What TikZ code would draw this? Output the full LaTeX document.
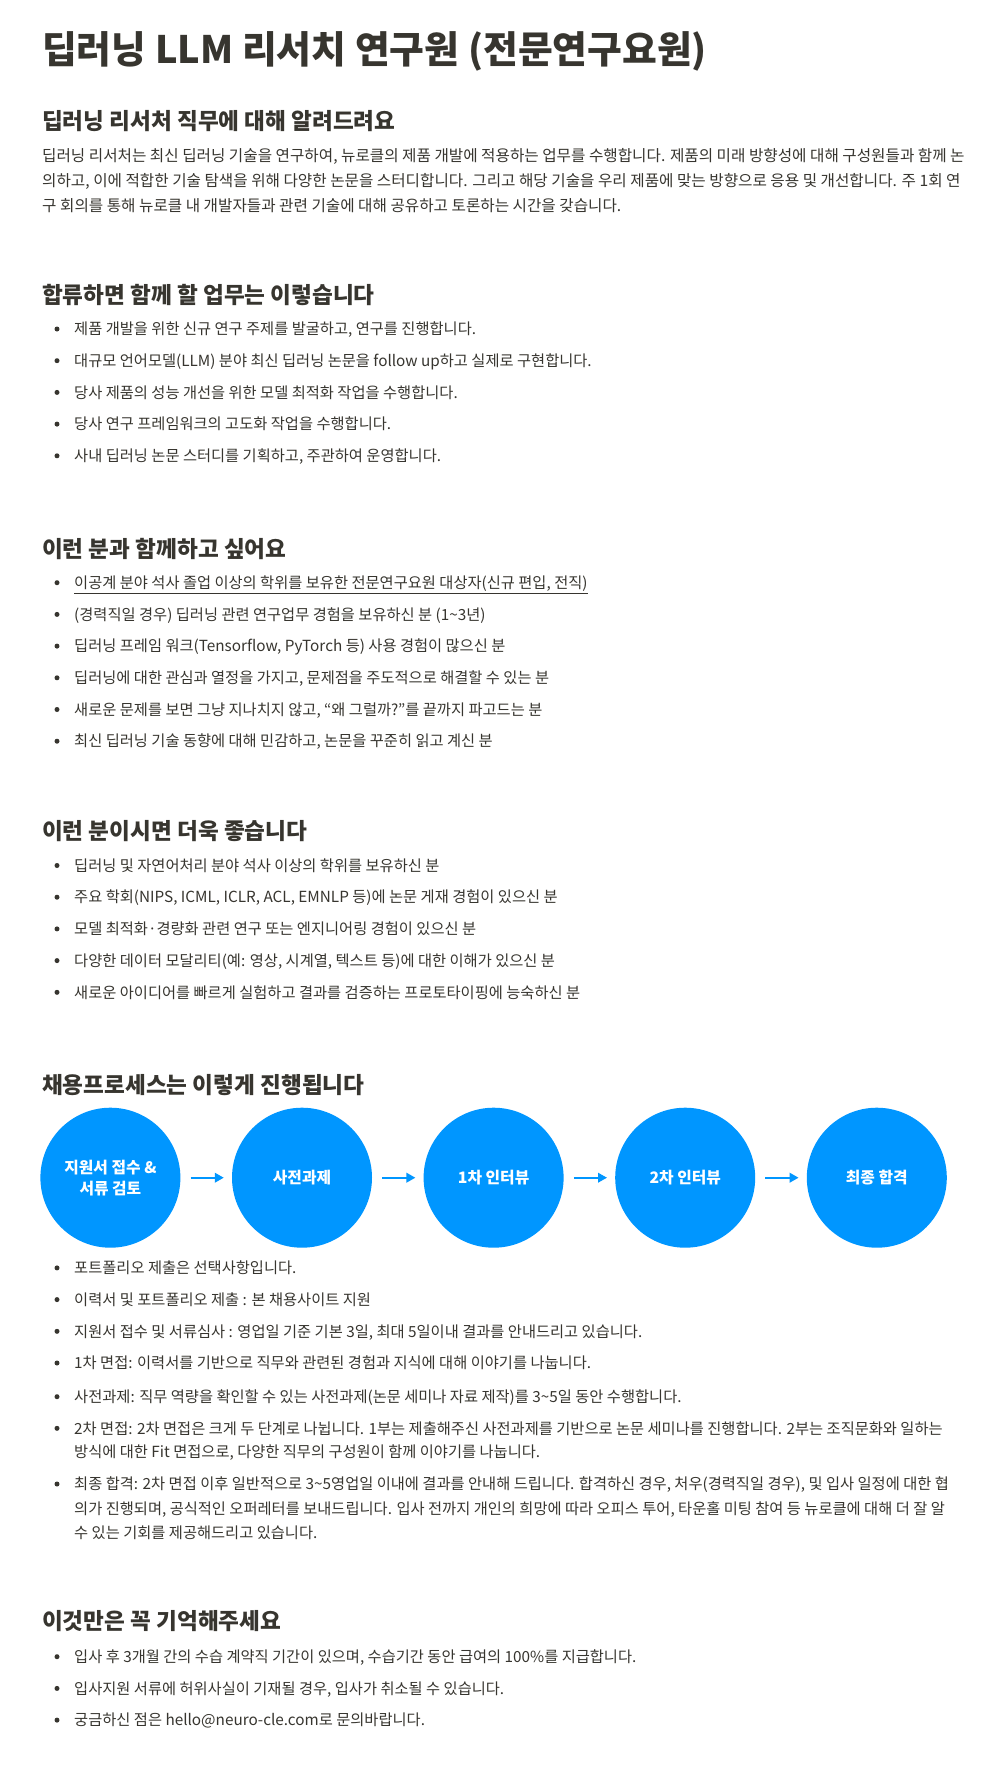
\documentclass[tikz,border=0pt]{standalone}
\usepackage{fontspec}
\setmainfont{Noto Sans CJK KR}
\usepackage{tikz}
\usetikzlibrary{arrows.meta}
\definecolor{ink}{HTML}{37352F}
\definecolor{brand}{HTML}{0096FF}

\begin{document}
\begin{tikzpicture}[x=1pt, y=-1pt,
    title/.style={anchor=base west, inner sep=0pt, text=ink, font=\fontsize{37.8}{42}\selectfont\bfseries},
    head/.style={anchor=base west, inner sep=0pt, text=ink, font=\fontsize{22.6}{26}\selectfont\bfseries},
    body/.style={anchor=base west, inner sep=0pt, text=ink, font=\fontsize{15.3}{18}\selectfont},
    lead/.style={body, font=\fontsize{15.65}{18}\selectfont},
    stage/.style={circle, fill=brand, minimum size=140pt, inner sep=0pt, text=white, align=center, font=\fontsize{15.8}{21}\selectfont\bfseries},
    flow/.style={brand, line width=2pt, -{Triangle[length=9pt, width=9.5pt]}, shorten <=10pt, shorten >=8pt}]
        \useasboundingbox[fill=white] (0,0) rectangle (1002,1767);

        % title and intro
        \node[title] (top) at (42,63.5) {딥러닝 LLM 리서치 연구원 (전문연구요원)};
        \node[head] (hRole) at (42,129.9) {딥러닝 리서처 직무에 대해 알려드려요};
        \node[lead] (intro1) at (42,161.3) {딥러닝 리서처는 최신 딥러닝 기술을 연구하여, 뉴로클의 제품 개발에 적용하는 업무를 수행합니다. 제품의 미래 방향성에 대해 구성원들과 함께 논};
        \node[lead] (intro2) at (42,186.8) {의하고, 이에 적합한 기술 탐색을 위해 다양한 논문을 스터디합니다. 그리고 해당 기술을 우리 제품에 맞는 방향으로 응용 및 개선합니다. 주 1회 연};
        \node[lead] (intro3) at (42,211.8) {구 회의를 통해 뉴로클 내 개발자들과 관련 기술에 대해 공유하고 토론하는 시간을 갖습니다.};

        % duties
        \node[head] (hJob) at (42,303.7) {합류하면 함께 할 업무는 이렇습니다};
        \fill[ink] (57,329) circle (2.5);
        \node[body] (job1) at (74,334.7) {제품 개발을 위한 신규 연구 주제를 발굴하고, 연구를 진행합니다.};
        \fill[ink] (57,360.7) circle (2.5);
        \node[body] (job2) at (74,366.4) {대규모 언어모델(LLM) 분야 최신 딥러닝 논문을 follow up하고 실제로 구현합니다.};
        \fill[ink] (57,392.4) circle (2.5);
        \node[body] (job3) at (74,398.1) {당사 제품의 성능 개선을 위한 모델 최적화 작업을 수행합니다.};
        \fill[ink] (57,424.1) circle (2.5);
        \node[body] (job4) at (74,429.8) {당사 연구 프레임워크의 고도화 작업을 수행합니다.};
        \fill[ink] (57,455.8) circle (2.5);
        \node[body] (job5) at (74,461.5) {사내 딥러닝 논문 스터디를 기획하고, 주관하여 운영합니다.};

        % requirements
        \node[head] (hWant) at (42,557.2) {이런 분과 함께하고 싶어요};
        \fill[ink] (57,582.7) circle (2.5);
        \node[body] (want1) at (74,588.4) {이공계 분야 석사 졸업 이상의 학위를 보유한 전문연구요원 대상자(신규 편입, 전직)};
        \draw[ink, line width=0.8pt] ([yshift=-5pt]want1.base west) -- ([yshift=-5pt]want1.base east);
        \fill[ink] (57,614.4) circle (2.5);
        \node[body] (want2) at (74,620.1) {(경력직일 경우) 딥러닝 관련 연구업무 경험을 보유하신 분 (1\textasciitilde3년)};
        \fill[ink] (57,646.1) circle (2.5);
        \node[body] (want3) at (74,651.8) {딥러닝 프레임 워크(Tensorflow, PyTorch 등) 사용 경험이 많으신 분};
        \fill[ink] (57,677.8) circle (2.5);
        \node[body] (want4) at (74,683.5) {딥러닝에 대한 관심과 열정을 가지고, 문제점을 주도적으로 해결할 수 있는 분};
        \fill[ink] (57,709.5) circle (2.5);
        \node[body] (want5) at (74,715.2) {새로운 문제를 보면 그냥 지나치지 않고, “왜 그럴까?”를 끝까지 파고드는 분};
        \fill[ink] (57,741.2) circle (2.5);
        \node[body] (want6) at (74,746.9) {최신 딥러닝 기술 동향에 대해 민감하고, 논문을 꾸준히 읽고 계신 분};

        % preferred
        \node[head] (hPlus) at (42,839) {이런 분이시면 더욱 좋습니다};
        \fill[ink] (57,865.5) circle (2.5);
        \node[body] (plus1) at (74,871.2) {딥러닝 및 자연어처리 분야 석사 이상의 학위를 보유하신 분};
        \fill[ink] (57,897.2) circle (2.5);
        \node[body] (plus2) at (74,902.9) {주요 학회(NIPS, ICML, ICLR, ACL, EMNLP 등)에 논문 게재 경험이 있으신 분};
        \fill[ink] (57,928.9) circle (2.5);
        \node[body] (plus3) at (74,934.6) {모델 최적화·경량화 관련 연구 또는 엔지니어링 경험이 있으신 분};
        \fill[ink] (57,960.6) circle (2.5);
        \node[body] (plus4) at (74,966.3) {다양한 데이터 모달리티(예: 영상, 시계열, 텍스트 등)에 대한 이해가 있으신 분};
        \fill[ink] (57,992.3) circle (2.5);
        \node[body] (plus5) at (74,998) {새로운 아이디어를 빠르게 실험하고 결과를 검증하는 프로토타이핑에 능숙하신 분};

        % process
        \node[head] (hProc) at (42,1093.7) {채용프로세스는 이렇게 진행됩니다};
        \node[stage] (s1) at (110.4,1177.7) {지원서 접수 \&\\서류 검토};
        \node[stage] (s2) at (302,1177.7) {사전과제};
        \node[stage] (s3) at (493.6,1177.7) {1차 인터뷰};
        \node[stage] (s4) at (685.2,1177.7) {2차 인터뷰};
        \node[stage] (s5) at (876.8,1177.7) {최종 합격};
        \draw[flow] (s1) -- (s2);
        \draw[flow] (s2) -- (s3);
        \draw[flow] (s3) -- (s4);
        \draw[flow] (s4) -- (s5);

        \fill[ink] (57,1267.9) circle (2.5);
        \node[body] (proc1) at (74,1273.6) {포트폴리오 제출은 선택사항입니다.};
        \fill[ink] (57,1299.6) circle (2.5);
        \node[body] (proc2) at (74,1305.3) {이력서 및 포트폴리오 제출 : 본 채용사이트 지원};
        \fill[ink] (57,1331.3) circle (2.5);
        \node[body] (proc3) at (74,1337) {지원서 접수 및 서류심사 : 영업일 기준 기본 3일, 최대 5일이내 결과를 안내드리고 있습니다.};
        \fill[ink] (57,1363) circle (2.5);
        \node[body] (proc4) at (74,1368.7) {1차 면접: 이력서를 기반으로 직무와 관련된 경험과 지식에 대해 이야기를 나눕니다.};
        \fill[ink] (57,1396.7) circle (2.5);
        \node[body] (proc5) at (74,1402.4) {사전과제: 직무 역량을 확인할 수 있는 사전과제(논문 세미나 자료 제작)를 3\textasciitilde5일 동안 수행합니다.};
        \fill[ink] (57,1428.3) circle (2.5);
        \node[body] (proc6) at (74,1434) {2차 면접: 2차 면접은 크게 두 단계로 나뉩니다. 1부는 제출해주신 사전과제를 기반으로 논문 세미나를 진행합니다. 2부는 조직문화와 일하는};
        \node[body] (proc6b) at (74,1457.7) {방식에 대한 Fit 면접으로, 다양한 직무의 구성원이 함께 이야기를 나눕니다.};
        \fill[ink] (57,1484) circle (2.5);
        \node[body] (proc7) at (74,1489.7) {최종 합격: 2차 면접 이후 일반적으로 3\textasciitilde5영업일 이내에 결과를 안내해 드립니다. 합격하신 경우, 처우(경력직일 경우), 및 입사 일정에 대한 협};
        \node[body] (proc7b) at (74,1514) {의가 진행되며, 공식적인 오퍼레터를 보내드립니다. 입사 전까지 개인의 희망에 따라 오피스 투어, 타운홀 미팅 참여 등 뉴로클에 대해 더 잘 알};
        \node[body] (proc7c) at (74,1538.3) {수 있는 기회를 제공해드리고 있습니다.};

        % notes
        \node[head] (hMemo) at (42,1629) {이것만은 꼭 기억해주세요};
        \fill[ink] (57,1656.7) circle (2.5);
        \node[body] (memo1) at (74,1662.4) {입사 후 3개월 간의 수습 계약직 기간이 있으며, 수습기간 동안 급여의 100\%를 지급합니다.};
        \fill[ink] (57,1688.4) circle (2.5);
        \node[body] (memo2) at (74,1694.1) {입사지원 서류에 허위사실이 기재될 경우, 입사가 취소될 수 있습니다.};
        \fill[ink] (57,1720.1) circle (2.5);
        \node[body] (memo3) at (74,1725.8) {궁금하신 점은 hello@neuro-cle.com로 문의바랍니다.};
      \end{tikzpicture}
\end{document}
